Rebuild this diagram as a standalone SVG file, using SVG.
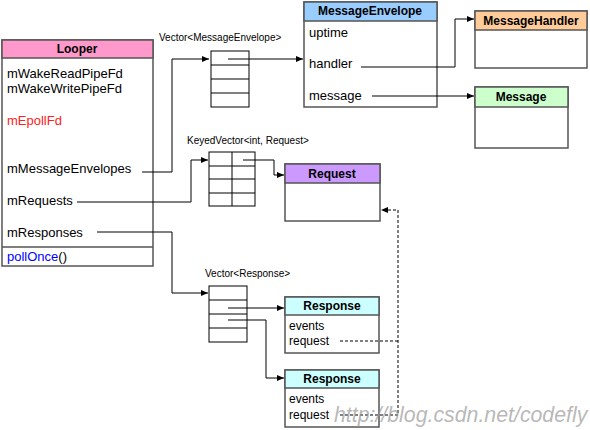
<svg xmlns="http://www.w3.org/2000/svg" width="590" height="430" viewBox="0 0 590 430">
<style>
.box{fill:#fff;stroke:#555;stroke-width:1.5}
.hd{stroke:#555;stroke-width:1.5}
.t{font-family:"Liberation Sans",Arial,sans-serif;font-size:13px;fill:#000}
.h{font-family:"Liberation Sans",Arial,sans-serif;font-size:12px;font-weight:bold;fill:#000;text-anchor:middle}
.s{font-family:"Liberation Sans",Arial,sans-serif;font-size:10px;fill:#000}
.c{fill:none;stroke:#000;stroke-width:1}
.d{fill:none;stroke:#000;stroke-width:1;stroke-dasharray:3,2}
.v{fill:#fff;stroke:#000;stroke-width:1}
</style>
<defs>
<marker id="a" markerWidth="8" markerHeight="8" refX="7" refY="4" orient="auto" markerUnits="userSpaceOnUse">
<path d="M0,1 L7,4 L0,7 Z" fill="#000"/>
</marker>
</defs>
<g id="looper">
<rect class="box" x="2" y="40" width="151" height="226"/>
<rect class="hd" x="2" y="40" width="151" height="18" fill="#FF99CC"/>
<line class="hd" x1="2" y1="247" x2="153" y2="247"/>
<text class="h" x="77" y="53">Looper</text>
<text class="t" x="7" y="78">mWakeReadPipeFd</text>
<text class="t" x="7" y="93">mWakeWritePipeFd</text>
<text class="t" x="7" y="125" style="fill:#ff2020">mEpollFd</text>
<text class="t" x="7" y="173">mMessageEnvelopes</text>
<text class="t" x="7" y="205">mRequests</text>
<text class="t" x="7" y="237">mResponses</text>
<text class="t" x="7" y="261"><tspan style="fill:#0000FF">pollOnce</tspan>()</text>
</g>
<g id="vector-envelope">
<text class="s" x="159" y="41">Vector&lt;MessageEnvelope&gt;</text>
<rect class="v" x="211" y="51" width="38" height="56"/>
<line class="v" x1="211" y1="65" x2="249" y2="65"/>
<line class="v" x1="211" y1="79" x2="249" y2="79"/>
<line class="v" x1="211" y1="93" x2="249" y2="93"/>
</g>
<g id="message-envelope">
<rect class="box" x="304" y="2" width="133" height="105"/>
<rect class="hd" x="304" y="2" width="133" height="19" fill="#99CCFF"/>
<text class="h" x="370" y="15">MessageEnvelope</text>
<text class="t" x="309" y="37">uptime</text>
<text class="t" x="309" y="68">handler</text>
<text class="t" x="309" y="100">message</text>
</g>
<g id="message-handler">
<rect class="box" x="475" y="11" width="112" height="57"/>
<rect class="hd" x="475" y="11" width="112" height="19" fill="#FFCC99"/>
<text class="h" x="531" y="25">MessageHandler</text>
</g>
<g id="message">
<rect class="box" x="475" y="87" width="93" height="61"/>
<rect class="hd" x="475" y="87" width="93" height="20" fill="#CCFFCC"/>
<text class="h" x="521" y="101">Message</text>
</g>
<g id="keyed-vector">
<text class="s" x="187" y="144">KeyedVector&lt;int, Request&gt;</text>
<rect class="v" x="209" y="152" width="46" height="54"/>
<line class="v" x1="232" y1="152" x2="232" y2="206"/>
<line class="v" x1="209" y1="166" x2="255" y2="166"/>
<line class="v" x1="209" y1="179" x2="255" y2="179"/>
<line class="v" x1="209" y1="193" x2="255" y2="193"/>
</g>
<g id="request">
<rect class="box" x="285" y="164" width="95" height="57"/>
<rect class="hd" x="285" y="164" width="95" height="19" fill="#CC99FF"/>
<text class="h" x="332" y="178">Request</text>
</g>
<g id="vector-response">
<text class="s" x="205" y="277">Vector&lt;Response&gt;</text>
<rect class="v" x="209" y="286" width="38" height="56"/>
<line class="v" x1="209" y1="300" x2="247" y2="300"/>
<line class="v" x1="209" y1="314" x2="247" y2="314"/>
<line class="v" x1="209" y1="328" x2="247" y2="328"/>
</g>
<g id="response1">
<rect class="box" x="285" y="297" width="94" height="56"/>
<rect class="hd" x="285" y="297" width="94" height="18" fill="#CCFFFF"/>
<text class="h" x="332" y="310">Response</text>
<text class="t" x="289" y="330" style="font-size:12px">events</text>
<text class="t" x="289" y="345" style="font-size:12px">request</text>
</g>
<g id="response2">
<rect class="box" x="285" y="370" width="94" height="57"/>
<rect class="hd" x="285" y="370" width="94" height="18" fill="#CCFFFF"/>
<text class="h" x="332" y="383">Response</text>
<text class="t" x="289" y="403" style="font-size:12px">events</text>
<text class="t" x="289" y="419" style="font-size:12px">request</text>
</g>
<g id="connectors">
<polyline class="c" points="142,172 172,172 172,59 209,59" marker-end="url(#a)"/>
<polyline class="c" points="228,59 303,59" marker-end="url(#a)"/>
<polyline class="c" points="361,67 455,67 455,19 474,19" marker-end="url(#a)"/>
<polyline class="c" points="372,96 474,96" marker-end="url(#a)"/>
<polyline class="c" points="77,202 191,202 191,160 208,160" marker-end="url(#a)"/>
<polyline class="c" points="243,160 274,160 274,175 284,175" marker-end="url(#a)"/>
<polyline class="c" points="97,232 172,232 172,293 208,293" marker-end="url(#a)"/>
<polyline class="c" points="228,308 284,308" marker-end="url(#a)"/>
<polyline class="c" points="228,320 266,320 266,378 284,378" marker-end="url(#a)"/>
<polyline class="d" points="340,341 398,341"/>
<polyline class="d" points="340,415 398,415 398,210 381,210" marker-end="url(#a)"/>
</g>
<text x="334" y="422" style="font-family:'Liberation Sans',Arial,sans-serif;font-size:21.3px;font-style:italic;fill:#999;fill-opacity:0.7">http://blog.csdn.net/codefly</text>
</svg>
